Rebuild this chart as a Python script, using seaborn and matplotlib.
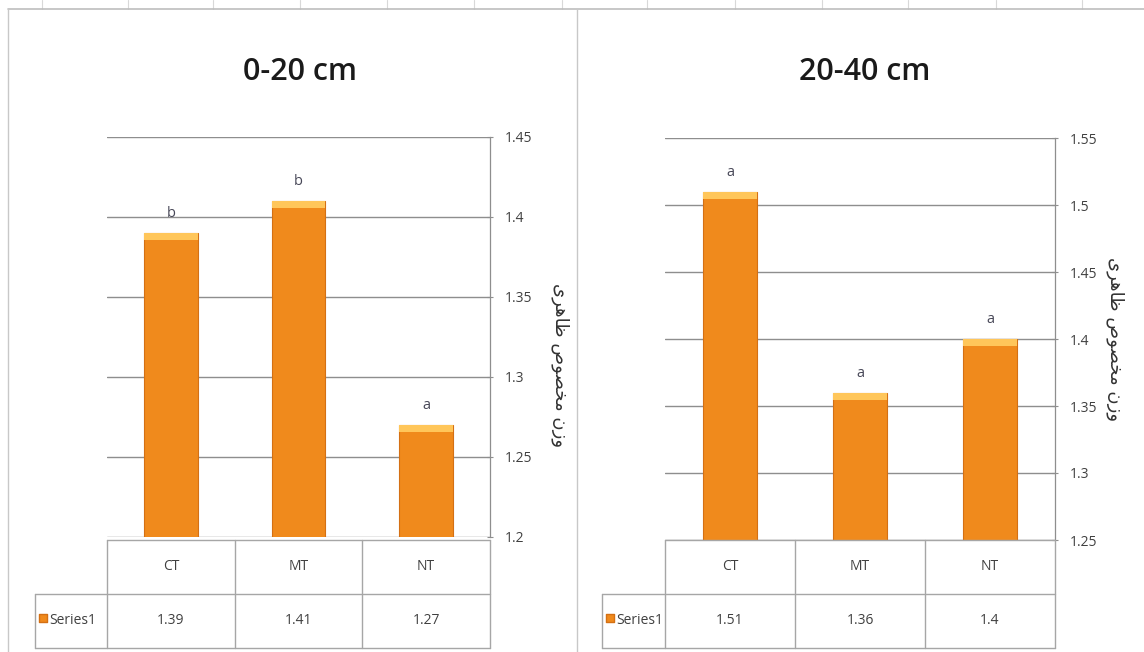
import numpy as np
import matplotlib
matplotlib.use("Agg")
import matplotlib.pyplot as plt
import seaborn as sns

sns.set_theme(style="white")
plt.rcParams["font.family"] = ["Open Sans", "DejaVu Sans"]

categories = ["CT", "MT", "NT"]
series_name = "Series1"

titles = ["0-20 cm", "20-40 cm"]
values_0_20 = [1.39, 1.41, 1.27]
values_20_40 = [1.51, 1.36, 1.40]
letters_0_20 = ["b", "b", "a"]
letters_20_40 = ["a", "a", "a"]
ticks_0_20 = [1.2, 1.25, 1.3, 1.35, 1.4, 1.45]
ticks_20_40 = [1.25, 1.3, 1.35, 1.4, 1.45, 1.5, 1.55]
value_text_0_20 = ["1.39", "1.41", "1.27"]
value_text_20_40 = ["1.51", "1.36", "1.4"]

# Persian label "وزن مخصوص ظاهری" in visual order (presentation forms, no bidi in matplotlib)
ylabel_fa = "\uFBFC\uFEAE\uFEEB\uFE8E\uFEC7 \uFEB9\uFEEE\uFEBC\uFEA8\uFEE3 \uFEE5\uFEAF\uFEED"

W, H = 1144, 652
BAR = "#F08A1C"
BAR_EDGE = "#D47014"
BAR_TOP = "#FFC65A"
GRID = "#8E8E8E"
LINE = "#A6A6A6"
TXT = "#404040"


def px_rect(x0, y0, x1, y1):
    # pixel box (top-left origin) -> figure fraction rect
    return [x0 / W, 1 - y1 / H, (x1 - x0) / W, (y1 - y0) / H]


fig = plt.figure(figsize=(W / 100, H / 100), dpi=100)
fig.patch.set_facecolor("white")

# faint worksheet grid above the charts
bg = fig.add_axes([0, 0, 1, 1], zorder=-5)
bg.set_xlim(0, W); bg.set_ylim(H, 0); bg.axis("off")
for gx in [42, 128, 213, 300, 387, 474, 562, 647, 735, 822, 908, 996, 1082]:
    bg.plot([gx, gx], [0, 9], color="#D8D8D8", lw=0.8)
bg.plot([8, W], [9, 9], color="#BDBDBD", lw=1.2)
bg.plot([8, 8], [9, H], color="#C8C8C8", lw=1.0)
bg.plot([577, 577], [9, H], color="#C8C8C8", lw=1.0)

panels = [
    dict(title=titles[0], vals=values_0_20, letters=letters_0_20, ticks=ticks_0_20,
         vtext=value_text_0_20, plot=(107, 137, 490, 537), label_x=35,
         title_x=300, ylab_y=0.43, ylab_dx=80),
    dict(title=titles[1], vals=values_20_40, letters=letters_20_40, ticks=ticks_20_40,
         vtext=value_text_20_40, plot=(665, 138, 1055, 540), label_x=602,
         title_x=865, ylab_y=0.5, ylab_dx=70),
]

for p in panels:
    x0, y0, x1, y1 = p["plot"]
    ax = fig.add_axes(px_rect(x0, y0, x1, y1))
    lo, hi = p["ticks"][0], p["ticks"][-1]

    sns.barplot(x=categories, y=p["vals"], ax=ax, color=BAR, saturation=1,
                width=0.42, edgecolor=BAR_EDGE, linewidth=0.8, zorder=3)
    band = 0.018 * (hi - lo)
    ax.bar(range(len(categories)), [band] * len(categories),
           bottom=np.array(p["vals"]) - band, width=0.42, color=BAR_TOP,
           edgecolor="none", zorder=4)

    for i, (v, lab) in enumerate(zip(p["vals"], p["letters"])):
        ax.annotate(lab, (i, v), xytext=(0, 12), textcoords="offset pixels",
                    ha="center", va="bottom", fontsize=10.5, color="#484858")

    ax.set_xlim(-0.5, 2.5)
    ax.set_ylim(lo, hi)
    ax.set_yticks(p["ticks"])
    ax.set_yticklabels([f"{t:g}" for t in p["ticks"]], fontsize=10, color=TXT)
    ax.yaxis.tick_right()
    ax.tick_params(axis="y", length=5, width=0.8, color=GRID, direction="inout", pad=8)
    ax.set_xticks([])
    ax.set_xlabel("")
    ax.grid(axis="y", color=GRID, lw=1.0, zorder=0)
    ax.set_axisbelow(True)
    for s in ["left", "top", "bottom"]:
        ax.spines[s].set_visible(False)
    ax.spines["right"].set_color(GRID)
    ax.spines["right"].set_linewidth(0.9)
    ax.set_facecolor("none")

    ax.yaxis.set_label_position("right")
    ax.set_ylabel(ylabel_fa, rotation=-90, fontsize=13, color="#333333",
                  family=["DejaVu Sans"])
    ax.yaxis.set_label_coords(1 + p["ylab_dx"] / (x1 - x0), p["ylab_y"])

    fig.text(p["title_x"] / W, 1 - 72 / H, p["title"], ha="center", va="center",
             fontsize=22, fontweight="semibold", color="#1A1A1A")

    # data table under the plot
    tx = fig.add_axes(px_rect(x0, 540, x1, 648))
    tx.set_xlim(-0.5, 2.5); tx.set_ylim(0, 2); tx.axis("off")
    left = -0.5 - (x0 - p["label_x"]) / ((x1 - x0) / 3)
    kw = dict(color=LINE, lw=1.0, clip_on=False)
    tx.plot([-0.5, 2.5], [2, 2], **kw)
    tx.plot([left, 2.5], [1, 1], **kw)
    tx.plot([left, 2.5], [0, 0], **kw)
    for cx in [-0.5, 0.5, 1.5, 2.5]:
        tx.plot([cx, cx], [0, 2], **kw)
    tx.plot([left, left], [0, 1], **kw)
    for i, c in enumerate(categories):
        tx.text(i, 1.5, c, ha="center", va="center", fontsize=10, color=TXT)
        tx.text(i, 0.5, p["vtext"][i], ha="center", va="center", fontsize=10, color=TXT)
    tx.scatter([left + 0.06], [0.55], marker="s", s=30, color=BAR,
               edgecolor=BAR_EDGE, clip_on=False)
    tx.text(left + 0.11, 0.5, series_name, ha="left", va="center",
            fontsize=10, color=TXT)

fig.savefig("out.png", dpi=100)
